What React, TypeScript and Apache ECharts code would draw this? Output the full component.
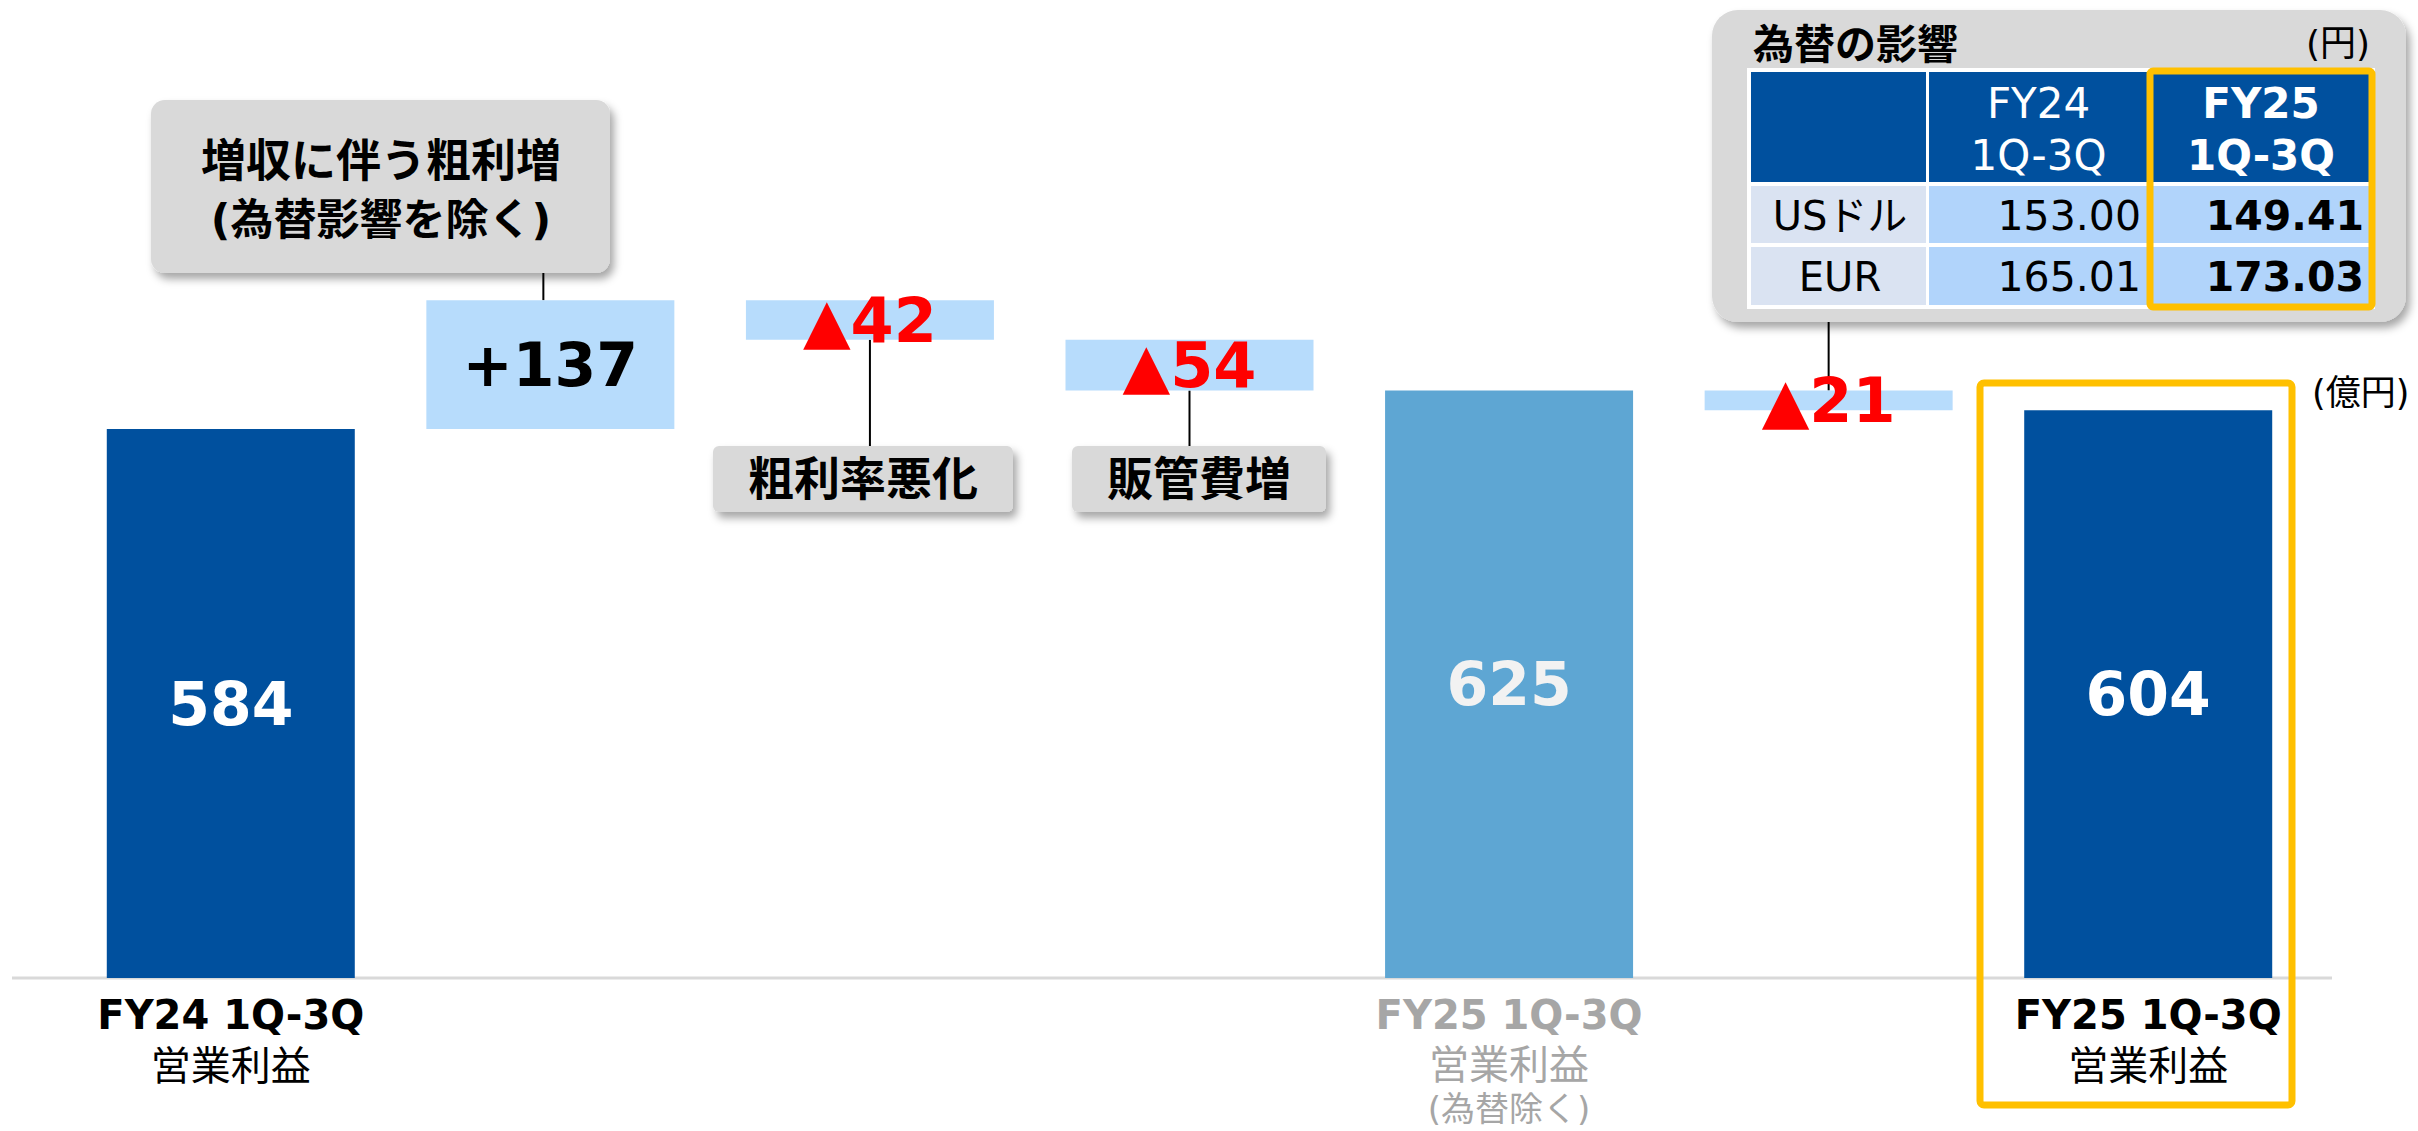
import React, { useEffect, useRef } from "react";
import * as echarts from "echarts";

// ---------- data ----------
const categories = [
  "FY24 1Q-3Q 営業利益",
  "増収に伴う粗利増",
  "粗利率悪化",
  "販管費増",
  "FY25 1Q-3Q 営業利益（為替除く）",
  "為替の影響",
  "FY25 1Q-3Q 営業利益",
];
const axisLine1 = ["FY24 1Q-3Q", "", "", "", "FY25 1Q-3Q", "", "FY25 1Q-3Q"];
const axisLine2 = ["営業利益", "", "", "", "営業利益", "", "営業利益"];
const axisLine3 = ["", "", "", "", "(為替除く)", "", ""];
const baseValues = [0, 584, 679, 625, 0, 604, 0];
const deltaValues = [584, 137, 42, 54, 625, 21, 604];
const valueLabels = ["584", "+137", "▲42", "▲54", "625", "▲21", "604"];
const kinds = ["total", "up", "down", "down", "sub", "down", "total"];

const calloutTexts = ["増収に伴う粗利増\n(為替影響を除く)", "粗利率悪化", "販管費増"];
const fxTitle = "為替の影響";
const fxUnit = "(円)";
const fxHeaders = ["", "FY24\n1Q-3Q", "FY25\n1Q-3Q"];
const fxRows = ["USドル", "EUR"];
const fxFY24 = ["153.00", "165.01"];
const fxFY25 = ["149.41", "173.03"];
const unitLabel = "(億円)";

// ---------- styles ----------
const FONT = "'DejaVu Sans', 'Noto Sans CJK JP', sans-serif";
const DARK = "#00509E";
const MID = "#5EA6D3";
const LIGHT = "#B7DCFC";
const GRAY_BOX = "#D9D9D9";
const YELLOW = "#FFC000";
const barColor: Record<string, string> = { total: DARK, up: LIGHT, down: LIGHT, sub: MID };
const labelColor: Record<string, string> = { total: "#FFFFFF", up: "#000000", down: "#FF0000", sub: "#F2F2F2" };
const labelSize: Record<string, number> = { total: 60, up: 60, down: 62, sub: 60 };

const shadow = {
  shadowBlur: 8,
  shadowOffsetX: 4,
  shadowOffsetY: 6,
  shadowColor: "rgba(0,0,0,0.35)",
};

export default function App() {
  const ref = useRef<HTMLDivElement>(null);

  useEffect(() => {
    document.body.style.margin = "0";
    const chart = echarts.init(ref.current!, null, { renderer: "svg" });

    const option: any = {
      animation: false,
      backgroundColor: "#FFFFFF",
      textStyle: { fontFamily: FONT },
      grid: { left: 71, right: 110, top: 38, bottom: 153, containLabel: false },
      xAxis: {
        type: "category",
        data: categories,
        axisLine: { show: false },
        axisTick: { show: false },
        axisLabel: {
          interval: 0,
          margin: 12,
          formatter: (_v: string, i: number) => {
            if (!axisLine1[i]) return "";
            const g = i === 4;
            let s = `{${g ? "ag" : "a"}|${axisLine1[i]}}\n{${g ? "bg" : "b"}|${axisLine2[i]}}`;
            if (axisLine3[i]) s += `\n{cg|${axisLine3[i]}}`;
            return s;
          },
          rich: {
            a: { fontFamily: FONT, fontWeight: "bold", fontSize: 40, color: "#000", lineHeight: 50 },
            b: { fontFamily: FONT, fontSize: 40, color: "#000", lineHeight: 52 },
            ag: { fontFamily: FONT, fontWeight: "bold", fontSize: 40, color: "#A6A6A6", lineHeight: 50 },
            bg: { fontFamily: FONT, fontSize: 40, color: "#A6A6A6", lineHeight: 50 },
            cg: { fontFamily: FONT, fontSize: 34, color: "#A6A6A6", lineHeight: 38 },
          },
        },
      },
      yAxis: { type: "value", min: 0, max: 1000, show: false, splitLine: { show: false } },
      series: [
        {
          name: "base",
          type: "bar",
          stack: "w",
          barWidth: 248,
          itemStyle: { color: "transparent" },
          emphasis: { disabled: true },
          data: baseValues,
        },
        {
          name: "value",
          type: "bar",
          stack: "w",
          barWidth: 248,
          data: deltaValues.map((v, i) => ({
            value: v,
            itemStyle: { color: barColor[kinds[i]] },
            label: { color: labelColor[kinds[i]], fontSize: labelSize[kinds[i]] },
          })),
          label: {
            show: true,
            position: "inside",
            fontFamily: FONT,
            fontWeight: "bold",
            formatter: (p: any) => valueLabels[p.dataIndex],
          },
        },
      ],
    };
    chart.setOption(option);

    const px = (i: number, v: number) => chart.convertToPixel({ gridIndex: 0 }, [i, v]) as number[];
    const top = (i: number) => px(i, baseValues[i] + deltaValues[i]);
    const bottom = (i: number) => px(i, baseValues[i]);
    const zeroY = px(0, 0)[1];

    const txt = (x: number, y: number, text: string, size: number, opts: any = {}) => ({
      type: "text",
      x,
      y,
      z: 10,
      style: {
        text,
        fontFamily: FONT,
        fontSize: size,
        fontWeight: opts.bold ? "bold" : "normal",
        fill: opts.fill || "#000",
        align: opts.align || "center",
        verticalAlign: "middle",
      },
    });
    const line = (x1: number, y1: number, x2: number, y2: number, color = "#000", w = 2) => ({
      type: "line",
      z: 1,
      shape: { x1, y1, x2, y2 },
      style: { stroke: color, lineWidth: w },
    });

    const graphics: any[] = [];
    // baseline
    graphics.push(line(12, zeroY, 2332, zeroY, "#D9D9D9", 3));

    // callout 1 (gross profit increase)
    const c1x = top(1)[0] - 7;
    graphics.push(line(c1x, 273, c1x, top(1)[1]));
    graphics.push({
      type: "rect", z: 5,
      shape: { x: 151, y: 100, width: 459, height: 173, r: 14 },
      style: { fill: GRAY_BOX, ...shadow },
    });
    const [c1a, c1b] = calloutTexts[0].split("\n");
    graphics.push(txt(381, 161, c1a, 45, { bold: true }));
    graphics.push(txt(381, 220, c1b, 43, { bold: true }));

    // callout 2
    const c2x = bottom(2)[0];
    graphics.push(line(c2x, bottom(2)[1], c2x, 446));
    graphics.push({
      type: "rect", z: 5,
      shape: { x: 713, y: 446, width: 300, height: 66, r: 6 },
      style: { fill: GRAY_BOX, ...shadow },
    });
    graphics.push(txt(863, 479, calloutTexts[1], 46, { bold: true }));

    // callout 3
    const c3x = bottom(3)[0];
    graphics.push(line(c3x, bottom(3)[1], c3x, 446));
    graphics.push({
      type: "rect", z: 5,
      shape: { x: 1072, y: 446, width: 254, height: 66, r: 6 },
      style: { fill: GRAY_BOX, ...shadow },
    });
    graphics.push(txt(1199, 479, calloutTexts[2], 46, { bold: true }));

    // FX table callout
    const c4x = top(5)[0];
    graphics.push(line(c4x, 322, c4x, top(5)[1]));
    graphics.push({
      type: "rect", z: 5,
      shape: { x: 1712, y: 10, width: 694, height: 312, r: 26 },
      style: { fill: GRAY_BOX, ...shadow },
    });
    graphics.push(txt(1753, 45, fxTitle, 41, { bold: true, align: "left" }));
    graphics.push(txt(2370, 43, fxUnit, 36, { align: "right" }));
    graphics.push({
      type: "rect", z: 6,
      shape: { x: 1747, y: 68, width: 628, height: 241 },
      style: { fill: "#FFFFFF" },
    });
    const colX = [[1751, 1926], [1929, 2148], [2151, 2371]];
    const rowY = [[72, 182], [186, 243], [247, 305]];
    const cellFill = (r: number, c: number) => (r === 0 ? DARK : c === 0 ? "#DAE3F2" : "#B1D4FB");
    for (let r = 0; r < 3; r++) {
      for (let c = 0; c < 3; c++) {
        graphics.push({
          type: "rect", z: 7,
          shape: { x: colX[c][0], y: rowY[r][0], width: colX[c][1] - colX[c][0], height: rowY[r][1] - rowY[r][0] },
          style: { fill: cellFill(r, c) },
        });
      }
    }
    for (let c = 1; c < 3; c++) {
      const [l1, l2] = fxHeaders[c].split("\n");
      const cx = (colX[c][0] + colX[c][1]) / 2;
      graphics.push(txt(cx, 103, l1, 42, { bold: c === 2, fill: "#FFFFFF" }));
      graphics.push(txt(cx, 155, l2, 42, { bold: c === 2, fill: "#FFFFFF" }));
    }
    for (let r = 0; r < fxRows.length; r++) {
      const cy = (rowY[r + 1][0] + rowY[r + 1][1]) / 2 + 1;
      graphics.push(txt(1840, cy, fxRows[r], 40));
      graphics.push(txt(2141, cy, fxFY24[r], 41, { align: "right" }));
      graphics.push(txt(2364, cy, fxFY25[r], 41, { align: "right", bold: true }));
    }
    graphics.push({
      type: "rect", z: 9,
      shape: { x: 2150, y: 71, width: 222, height: 236, r: 3 },
      style: { fill: "none", stroke: YELLOW, lineWidth: 7 },
    });

    // highlight box around final bar
    graphics.push({
      type: "rect", z: 9,
      shape: { x: 1980, y: 383, width: 312, height: 722, r: 4 },
      style: { fill: "none", stroke: YELLOW, lineWidth: 7 },
    });
    graphics.push(txt(2312, 393, unitLabel, 35, { align: "left" }));

    chart.setOption({ graphic: { elements: graphics } });

    return () => chart.dispose();
  }, []);

  return <div ref={ref} style={{ width: 2418, height: 1131 }} />;
}
